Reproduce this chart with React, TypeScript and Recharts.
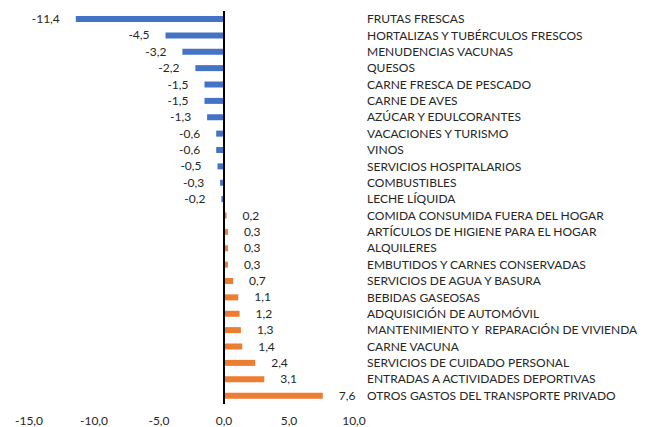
import { Bar, BarChart, Cell, LabelList, ReferenceLine, XAxis, YAxis } from 'recharts'

const categories = [
  'FRUTAS FRESCAS',
  'HORTALIZAS Y TUBÉRCULOS FRESCOS',
  'MENUDENCIAS VACUNAS',
  'QUESOS',
  'CARNE FRESCA DE PESCADO',
  'CARNE DE AVES',
  'AZÚCAR Y EDULCORANTES',
  'VACACIONES Y TURISMO',
  'VINOS',
  'SERVICIOS HOSPITALARIOS',
  'COMBUSTIBLES',
  'LECHE LÍQUIDA',
  'COMIDA CONSUMIDA FUERA DEL HOGAR',
  'ARTÍCULOS DE HIGIENE PARA EL HOGAR',
  'ALQUILERES',
  'EMBUTIDOS Y CARNES CONSERVADAS',
  'SERVICIOS DE AGUA Y BASURA',
  'BEBIDAS GASEOSAS',
  'ADQUISICIÓN DE AUTOMÓVIL',
  'MANTENIMIENTO Y  REPARACIÓN DE VIVIENDA',
  'CARNE VACUNA',
  'SERVICIOS DE CUIDADO PERSONAL',
  'ENTRADAS A ACTIVIDADES DEPORTIVAS',
  'OTROS GASTOS DEL TRANSPORTE PRIVADO',
]

const values = [
  -11.4, -4.5, -3.2, -2.2, -1.5, -1.5, -1.3, -0.6, -0.6, -0.5, -0.3, -0.2,
  0.2, 0.3, 0.3, 0.3, 0.7, 1.1, 1.2, 1.3, 1.4, 2.4, 3.1, 7.6,
]

const xTicks = [-15, -10, -5, 0, 5, 10]

const BLUE = '#4472C4'
const ORANGE = '#ED7D31'
const FONT = 'Lato, "Open Sans", sans-serif'
const TEXT = '#262626'

const fmt = (v: number) => v.toFixed(1).replace('.', ',')

const data = categories.map((name, i) => ({ name, value: values[i] }))

function ValueLabel(props: any) {
  const { x, y, width, height, value } = props
  const end = Number(x) + Number(width)
  const neg = value < 0
  return (
    <text
      x={neg ? end - 16 : end + 16}
      y={Number(y) + Number(height) / 2 + 1}
      textAnchor={neg ? 'end' : 'start'}
      dominantBaseline="middle"
      fontSize={12}
      fontFamily={FONT}
      fill={TEXT}
    >
      {fmt(value)}
    </text>
  )
}

function CategoryTick(props: any) {
  const { x, y, payload } = props
  return (
    <text
      x={x}
      y={y + 1}
      textAnchor="start"
      dominantBaseline="middle"
      fontSize={12}
      fontFamily={FONT}
      fill={TEXT}
      style={{ whiteSpace: 'pre' }}
    >
      {payload.value}
    </text>
  )
}

export default function App() {
  return (
    <div style={{ position: 'absolute', left: 0, top: 0, background: '#fff' }}>
      <BarChart
        width={657}
        height={427}
        data={data}
        layout="vertical"
        margin={{ top: 11, right: 0, left: 29, bottom: 0 }}
        barCategoryGap={0}
      >
        <XAxis
          type="number"
          domain={[-15, 10]}
          ticks={xTicks}
          tickFormatter={fmt}
          axisLine={false}
          tickLine={false}
          tickSize={0}
          tickMargin={12}
          height={23}
          interval={0}
          allowDataOverflow
          tick={{ fontSize: 12, fontFamily: FONT, fill: TEXT }}
        />
        <YAxis
          type="category"
          dataKey="name"
          orientation="right"
          width={303}
          axisLine={false}
          tickLine={false}
          tickSize={0}
          tickMargin={13}
          interval={0}
          tick={<CategoryTick />}
        />
        <Bar dataKey="value" barSize={6} isAnimationActive={false}>
          {values.map((v, i) => (
            <Cell key={i} fill={v < 0 ? BLUE : ORANGE} />
          ))}
          <LabelList dataKey="value" content={ValueLabel} />
        </Bar>
        <ReferenceLine x={0} stroke="#000" strokeWidth={2} />
      </BarChart>
    </div>
  )
}
